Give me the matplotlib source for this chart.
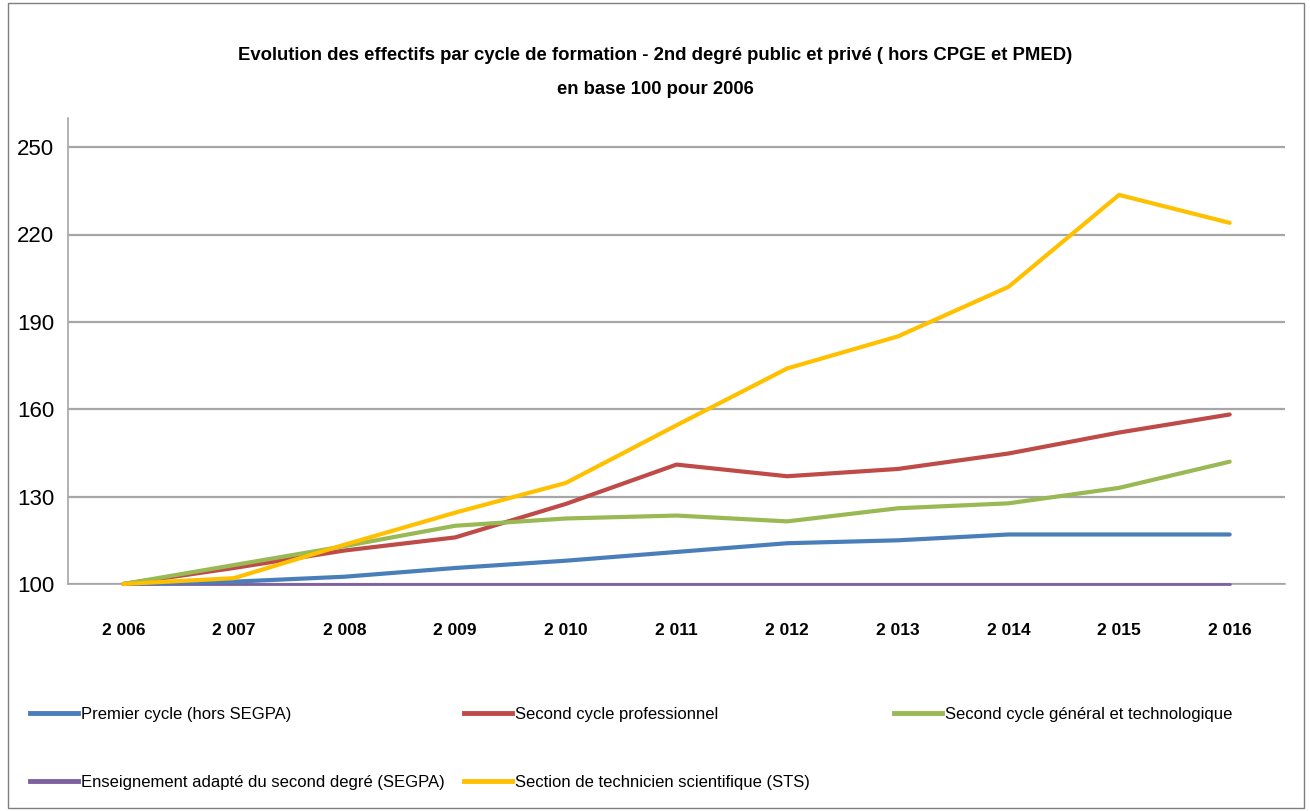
import matplotlib.pyplot as plt
from matplotlib.patches import Rectangle
from matplotlib.lines import Line2D

plt.rcParams['font.family'] = ['Liberation Sans', 'DejaVu Sans']

years = ["2 006", "2 007", "2 008", "2 009", "2 010", "2 011",
         "2 012", "2 013", "2 014", "2 015", "2 016"]

premier_cycle = [100, 100.8, 102.5, 105.5, 108, 111, 114, 115, 117, 117, 117]
second_pro = [100, 105.5, 111.5, 116, 127.5, 141, 137, 139.5, 144.8, 152, 158.2]
second_gt = [100, 106.5, 113, 120, 122.5, 123.5, 121.5, 126, 127.7, 133, 142]
segpa = [100, 100, 100, 100, 100, 100, 100, 100, 100, 100, 100]
sts = [100, 102, 113.5, 124.5, 134.7, 154.5, 174, 185, 202, 233.6, 224]

labels = ["Premier cycle (hors SEGPA)",
          "Second cycle professionnel",
          "Second cycle général et technologique",
          "Enseignement adapté du second degré (SEGPA)",
          "Section de technicien scientifique (STS)"]
colors = ["#4A7EBB", "#BE4B48", "#98B954", "#7D60A0", "#FFC000"]
series = [premier_cycle, second_pro, second_gt, segpa, sts]
widths = [3, 3, 3, 2, 3]

fig = plt.figure(figsize=(13.1, 8.11), dpi=100)
ax = fig.add_axes([68 / 1310, 1 - 584 / 811, (1285 - 68) / 1310, (584 - 118) / 811])

x = list(range(len(years)))
order = [3, 0, 1, 2, 4]
for i in order:
    ax.plot(x, series[i], color=colors[i], linewidth=widths[i],
            solid_capstyle='round', zorder=3, clip_on=False)

ax.set_xlim(-0.5, len(years) - 0.5)
ax.set_ylim(100, 260)
ax.set_yticks([100, 130, 160, 190, 220, 250])
ax.set_xticks(x)
ax.set_xticklabels(years, fontweight='bold', fontsize=12.5)
ax.tick_params(axis='y', labelsize=16, length=0, pad=10)
ax.tick_params(axis='x', length=0, pad=28)
ax.grid(axis='y', color='#A6A6A6', linewidth=1.6)
ax.set_axisbelow(True)
for s in ['top', 'right']:
    ax.spines[s].set_visible(False)
ax.spines['left'].set_color('#A6A6A6')
ax.spines['bottom'].set_color('#A6A6A6')
ax.spines['left'].set_linewidth(1.2)
ax.spines['bottom'].set_linewidth(1.2)

fig.text(0.5, 1 - 55 / 811,
         "Evolution des effectifs par cycle de formation - 2nd degré public et privé ( hors CPGE et PMED)",
         ha='center', va='center', fontsize=13.3, fontweight='bold')
fig.text(0.5, 1 - 89 / 811, "en base 100 pour 2006",
         ha='center', va='center', fontsize=13.3, fontweight='bold')

# legend laid out as three columns, like the original
cols = [[0, 3], [1, 4], [2]]
col_x = [30, 464, 894]
for cx, idx in zip(col_x, cols):
    handles = [Line2D([], [], color=colors[i], linewidth=3.5) for i in idx]
    fig.legend(handles, [labels[i] for i in idx], loc='upper left',
               bbox_to_anchor=(cx / 1310, 1 - 707 / 811), frameon=False,
               fontsize=12, handlelength=2.9, handletextpad=0.15,
               labelspacing=3.15, borderaxespad=0, borderpad=0)

fig.patches.append(Rectangle((8 / 1310, 3 / 811), 1296 / 1310, 805 / 811,
                             transform=fig.transFigure, fill=False,
                             edgecolor='#7F7F7F', linewidth=1))

fig.savefig("out.png", dpi=100)
